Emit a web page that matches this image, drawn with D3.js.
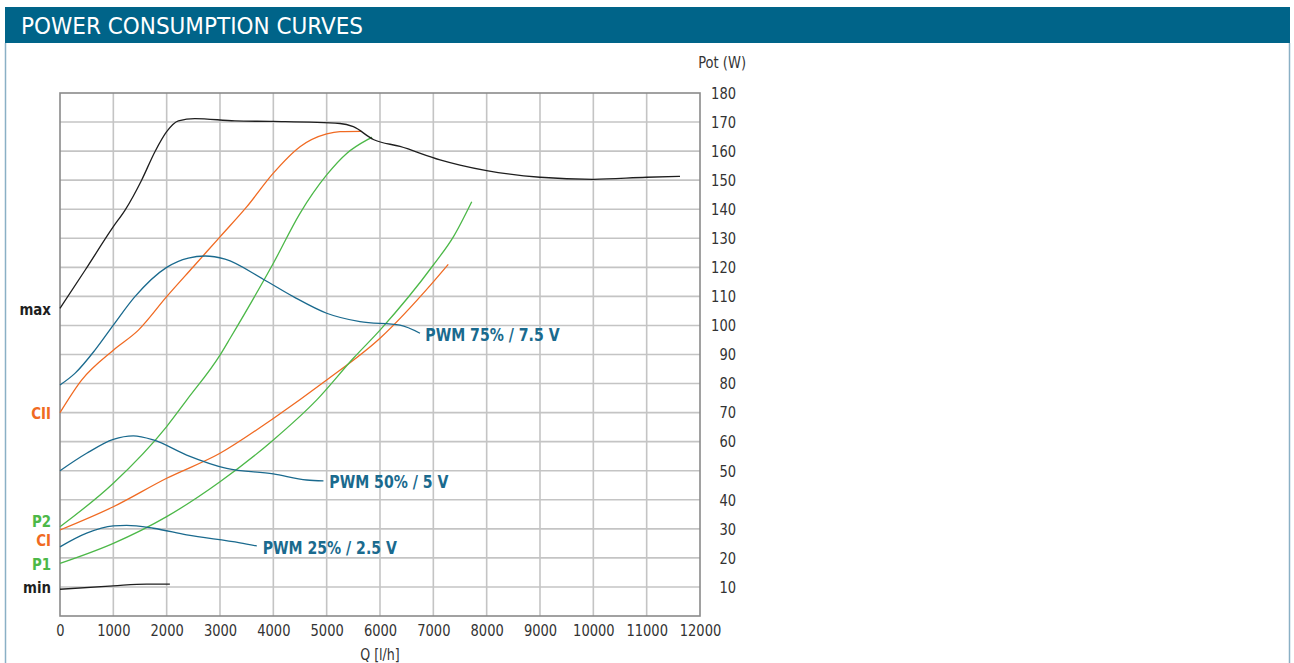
<!DOCTYPE html>
<html><head><meta charset="utf-8">
<script src="https://cdn.jsdelivr.net/npm/d3@7"></script>
<style>
html,body{margin:0;padding:0;background:#fff;}
svg{display:block;}
</style></head>
<body>
<svg id="chart" width="1294" height="663"></svg>
<script>
// ---------- DATA ----------
const title = "POWER CONSUMPTION CURVES";
const xTicks = [0,1000,2000,3000,4000,5000,6000,7000,8000,9000,10000,11000,12000];
const yTicks = [10,20,30,40,50,60,70,80,90,100,110,120,130,140,150,160,170,180];
const xLabel = "Q [l/h]";
const yLabel = "Pot (W)";

const maxCurve = [[0,105.9],[470,119],[1000,134],[1220,139.7],[1530,150],[1780,159.8],[2000,166.7],[2220,170.4],[2530,171.2],[3280,170.4],[4000,170.2],[5250,169.5],[5500,168.4],[5875,164],[6375,161.6],[7125,157],[7500,155.2],[8000,153.3],[9000,151],[10000,150.3],[11000,151],[11625,151.3]];
const minCurve = [[0,9.2],[1000,10.4],[1625,11],[2060,11]];
const pwm75 = [[0,79.5],[280,83.5],[655,91.5],[1000,100.1],[1405,109.9],[2000,120],[2405,123.2],[2720,123.9],[3095,122.8],[3810,115.9],[4375,109.9],[5000,104.2],[5625,101.3],[6375,100.1],[6750,97.3]];
const pwm50 = [[0,50],[500,56],[1000,60.8],[1375,62],[1750,60.6],[2375,55.4],[3125,50.8],[4000,48.9],[4625,46.8],[4940,46.5]];
const pwm25 = [[0,23.8],[500,28.5],[1000,31],[1250,31.2],[1750,30.2],[2375,27.9],[3375,25.2],[3690,24.1]];
const cII = [[0,70],[405,81.2],[1000,91.5],[1470,98.4],[2000,109.9],[2500,120.2],[3000,130.5],[3500,140.8],[4000,152.4],[4500,161.5],[5000,165.9],[5250,166.7],[5650,166.8]];
const cI = [[0,29.6],[1000,37.6],[2000,47.4],[3000,56],[4000,68],[5000,81.2],[6000,95.6],[7000,115],[7280,121]];
const p2 = [[0,30.7],[1000,45.7],[2000,65.2],[2375,74.3],[3000,89.8],[3190,95.6],[4000,121.4],[4500,138.6],[5000,151.8],[5375,159.2],[5810,164.4],[5850,164.8]];
const p1 = [[0,18.1],[1000,25],[2000,34.2],[3000,46.2],[4000,60.6],[4810,74.3],[5500,88.7],[6000,98.4],[7000,120.8],[7375,130.5],[7720,142.6]];

const leftLabels = [
  {text:"max", y:105.5, color:"#1e1e1e"},
  {text:"CII", y:70, color:"#f06a22"},
  {text:"P2", y:32.6, color:"#4cb848"},
  {text:"CI", y:26.3, color:"#f06a22"},
  {text:"P1", y:18, color:"#4cb848"},
  {text:"min", y:10, color:"#1e1e1e"}
];
const pwmLabels = [
  {text:"PWM 75% / 7.5 V", x:6850, y:97},
  {text:"PWM 50% / 5 V", x:5050, y:46.3},
  {text:"PWM 25% / 2.5 V", x:3800, y:23.6}
];

// ---------- DRAW ----------
const svg = d3.select("#chart");
const FONT = "'DejaVu Sans Condensed','DejaVu Sans',sans-serif";
const BLUE = "#1a6a8e", ORANGE="#f06a22", GREEN="#4cb848", BLACK="#1e1e1e";

function condense(sel, k){
  sel.each(function(){
    const w = this.getComputedTextLength();
    d3.select(this).attr("textLength", w*k).attr("lengthAdjust","spacingAndGlyphs");
  });
}

// panel borders
svg.append("rect").attr("x",5).attr("y",7).attr("width",1285).attr("height",36).attr("fill","#006489");
svg.append("line").attr("x1",5.5).attr("x2",5.5).attr("y1",43).attr("y2",663).attr("stroke","#8ab0c5").attr("stroke-width",1.5);
svg.append("line").attr("x1",1289.5).attr("x2",1289.5).attr("y1",43).attr("y2",663).attr("stroke","#8ab0c5").attr("stroke-width",1.5);
svg.append("text").attr("x",21).attr("y",34).attr("fill","#fff")
  .attr("font-family",FONT).attr("font-size",23.5)
  .attr("textLength",342).attr("lengthAdjust","spacingAndGlyphs").text(title);

const x = d3.scaleLinear().domain([0,12000]).range([60,700]);
const y = d3.scaleLinear().domain([0,180]).range([616,93]);

// grid
const g = svg.append("g");
g.selectAll(".vg").data(xTicks.slice(1,-1)).join("line")
  .attr("x1",d=>x(d)).attr("x2",d=>x(d)).attr("y1",y(180)).attr("y2",y(0))
  .attr("stroke","#c4c4c4").attr("stroke-width",1.6);
g.selectAll(".hg").data(yTicks.slice(0,-1)).join("line")
  .attr("x1",x(0)).attr("x2",x(12000)).attr("y1",d=>y(d)).attr("y2",d=>y(d))
  .attr("stroke","#c4c4c4").attr("stroke-width",1.6);
g.append("rect").attr("x",x(0)).attr("y",y(180)).attr("width",x(12000)-x(0)).attr("height",y(0)-y(180))
  .attr("fill","none").attr("stroke","#8a8a8a").attr("stroke-width",1.6);

// axes
const xAxis = d3.axisBottom(x).tickValues(xTicks).tickSize(0).tickPadding(8).tickFormat(d3.format("d"));
const xa = svg.append("g").attr("transform",`translate(0,${y(0)})`).call(xAxis);
xa.select(".domain").remove();
xa.selectAll("text").attr("font-family",FONT).attr("font-size",16.5).attr("fill","#333").call(condense,0.88);

const yAxis = d3.axisRight(y).tickValues(yTicks).tickSize(0).tickPadding(0).tickFormat(d3.format("d"));
const ya = svg.append("g").attr("transform",`translate(736,0)`).call(yAxis);
ya.select(".domain").remove();
ya.selectAll("text").attr("font-family",FONT).attr("font-size",16.5).attr("fill","#333").attr("text-anchor","end").call(condense,0.88);

svg.append("text").attr("x",x(6000)).attr("y",660).attr("text-anchor","middle")
  .attr("font-family",FONT).attr("font-size",16.5).attr("fill","#333").text(xLabel).call(condense,0.85);
svg.append("text").attr("x",746).attr("y",68).attr("text-anchor","end")
  .attr("font-family",FONT).attr("font-size",16.5).attr("fill","#333").text(yLabel).call(condense,0.88);

// curves
const line = d3.line().x(d=>x(d[0])).y(d=>y(d[1])).curve(d3.curveMonotoneX);
const series = [
  [cII,ORANGE],[cI,ORANGE],[p2,GREEN],[p1,GREEN],
  [pwm75,BLUE],[pwm50,BLUE],[pwm25,BLUE],[maxCurve,BLACK],[minCurve,BLACK]
];
svg.append("g").selectAll("path").data(series).join("path")
  .attr("d",d=>line(d[0])).attr("fill","none").attr("stroke",d=>d[1]).attr("stroke-width",1.3);

// left labels
svg.append("g").selectAll("text").data(leftLabels).join("text")
  .attr("x",51).attr("y",d=>y(d.y)).attr("dy","0.36em").attr("text-anchor","end")
  .attr("font-family",FONT).attr("font-size",16.5).attr("font-weight","bold").attr("fill",d=>d.color).text(d=>d.text)
  .call(condense,0.9);

// pwm labels
svg.append("g").selectAll("text").data(pwmLabels).join("text")
  .attr("x",d=>x(d.x)).attr("y",d=>y(d.y)).attr("dy","0.36em")
  .attr("font-family",FONT).attr("font-size",18).attr("font-weight","bold").attr("fill",BLUE).text(d=>d.text)
  .call(condense,0.87);
</script>
</body></html>
